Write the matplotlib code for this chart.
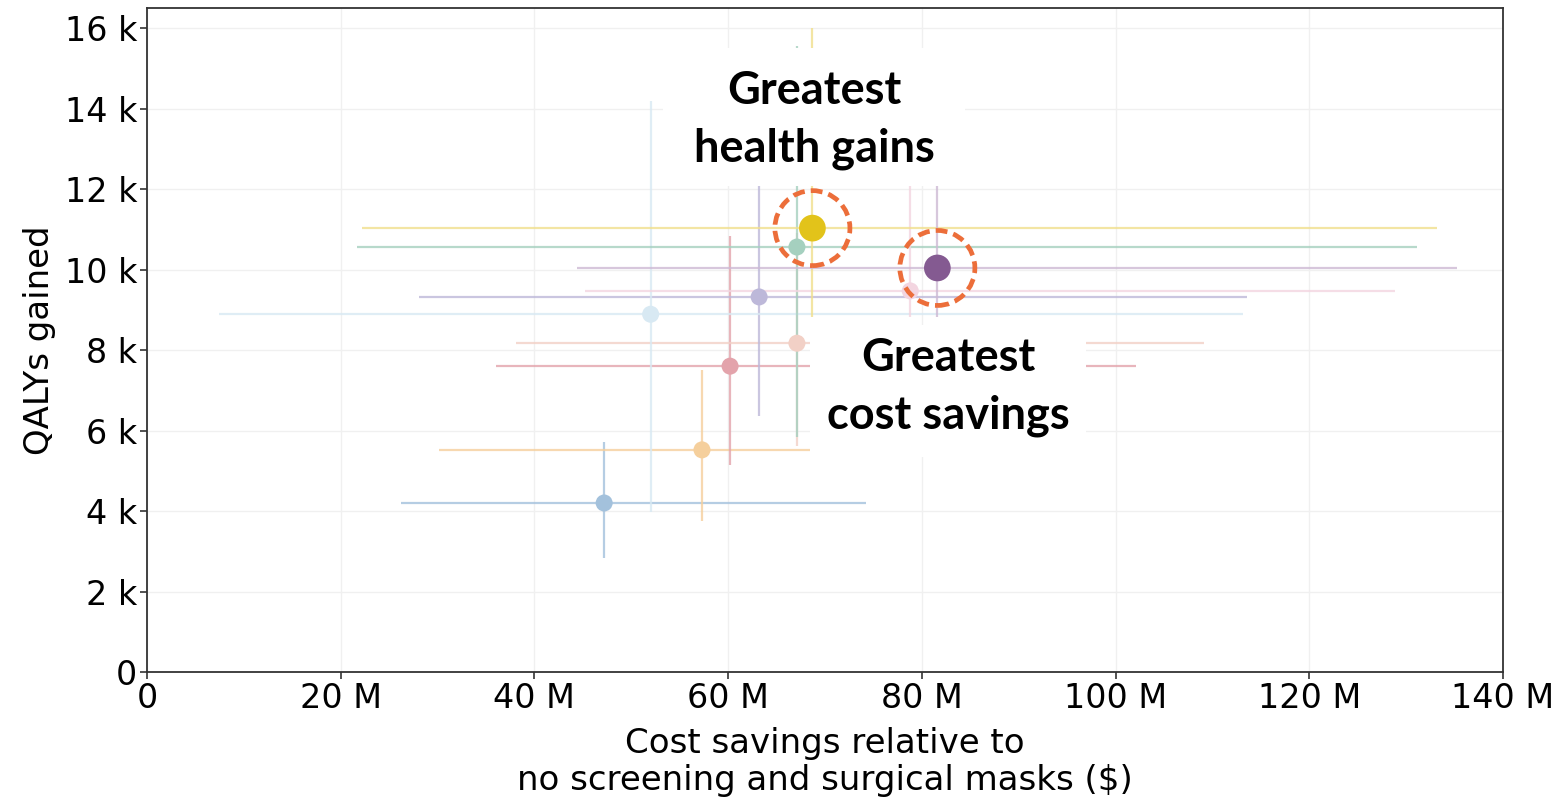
import matplotlib
matplotlib.use("Agg")
import matplotlib.pyplot as plt
from matplotlib.patches import Rectangle
from matplotlib.ticker import FuncFormatter, MultipleLocator

# Cost savings ($M) and QALYs gained (thousands), with uncertainty ranges
cost_mid = [47.2, 57.3, 60.2, 67.1, 63.2, 52.0, 67.1, 78.8, 68.7, 81.6]
cost_lo = [26.2, 30.1, 36.0, 38.1, 28.1, 7.4, 21.7, 45.2, 22.2, 44.4]
cost_hi = [74.2, 84.0, 102.1, 109.1, 113.6, 113.2, 131.1, 128.8, 133.2, 135.2]

qaly_mid = [4.20, 5.52, 7.60, 8.17, 9.32, 8.89, 10.56, 9.47, 11.03, 10.04]
qaly_lo = [2.83, 3.75, 5.14, 5.61, 6.36, 3.97, 5.84, 8.82, 8.82, 8.82]
qaly_hi = [5.71, 7.50, 10.83, 10.90, 13.20, 14.20, 15.55, 12.60, 16.00, 13.00]

colors = ["#a3c1dc", "#f5cf9c", "#e3a3ab", "#f2d0c6", "#bdb8d9",
          "#d8e9f3", "#a5d0bf", "#f3d5e0", "#e2c31a", "#845a91"]
bar_colors = ["#a3c1dc", "#f5cf9c", "#e3a3ab", "#f2d0c6", "#bdb8d9",
              "#d8e9f3", "#a5d0bf", "#f3d5e0", "#f0df8c", "#cdb9d4"]
big = [False] * 8 + [True, True]   # highlighted strategies

fig = plt.figure(figsize=(15.6, 8), dpi=100)
ax = fig.add_axes([0.0942, 0.16, 0.8693, 0.83])

for i in range(len(cost_mid)):
    c = bar_colors[i]
    ax.plot([cost_lo[i], cost_hi[i]], [qaly_mid[i], qaly_mid[i]],
            color=c, lw=1.6, alpha=0.8, zorder=2, solid_capstyle="butt")
    ax.plot([cost_mid[i], cost_mid[i]], [qaly_lo[i], qaly_hi[i]],
            color=c, lw=1.6, alpha=0.8, zorder=2, solid_capstyle="butt")

for i in range(len(cost_mid)):
    s = 370 if big[i] else 150
    ax.scatter(cost_mid[i], qaly_mid[i], s=s, color=colors[i],
               edgecolors="none", zorder=4 if big[i] else 3)

# dashed rings around highlighted points
hx = [cost_mid[i] for i in range(len(cost_mid)) if big[i]]
hy = [qaly_mid[i] for i in range(len(cost_mid)) if big[i]]
ax.scatter(hx, hy, s=54 ** 2, facecolors="none", edgecolors="#ec6e3a",
           linewidths=3.4, linestyles=(0, (2.5, 1.3)), zorder=5)

# white label boxes hide the lines behind the callouts
ax.add_patch(Rectangle((53.3, 12.07), 31.2, 3.43, facecolor="white",
                       edgecolor="none", zorder=6))
ax.add_patch(Rectangle((68.5, 5.35), 28.4, 3.27, facecolor="white",
                       edgecolor="none", zorder=6))

label_font = dict(family="Lato", weight="bold", size=32.5)
ax.text(68.9, 13.72, "Greatest\nhealth gains", ha="center", va="center",
        linespacing=1.45, zorder=7, **label_font)
ax.text(82.7, 7.08, "Greatest\ncost savings", ha="center", va="center",
        linespacing=1.45, zorder=7, **label_font)

ax.set_xlim(0, 140)
ax.set_ylim(0, 16.5)
ax.xaxis.set_major_locator(MultipleLocator(20))
ax.yaxis.set_major_locator(MultipleLocator(2))
ax.xaxis.set_major_formatter(FuncFormatter(lambda v, p: "0" if v == 0 else f"{v:.0f} M"))
ax.yaxis.set_major_formatter(FuncFormatter(lambda v, p: "0" if v == 0 else f"{v:.0f} k"))

ax.grid(True, color="#f0f0f0", lw=1.0, zorder=0)
ax.set_axisbelow(True)
for sp in ax.spines.values():
    sp.set_color("#333333")
    sp.set_linewidth(1.3)
ax.tick_params(labelsize=24, length=5, width=1.2, color="#333333", pad=2)

ax.set_xlabel("Cost savings relative to\nno screening and surgical masks ($)",
              fontsize=24.5, labelpad=9, linespacing=1.15)
ax.set_ylabel("QALYs gained", fontsize=24.5, labelpad=6)

fig.savefig("out.png", dpi=100)
